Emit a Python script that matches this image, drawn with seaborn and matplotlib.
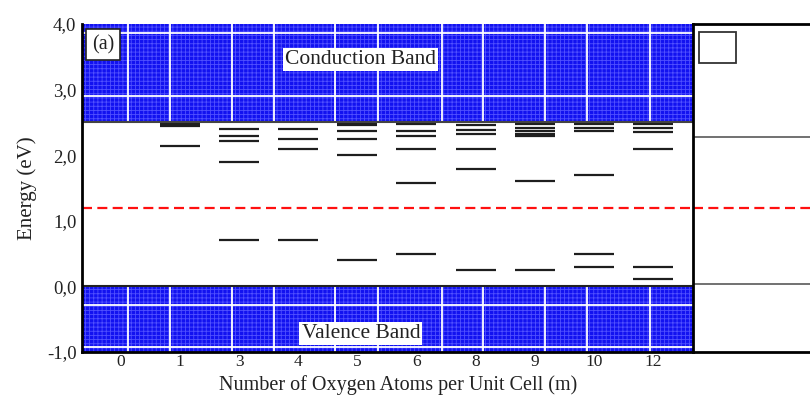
import matplotlib
matplotlib.use("Agg")
import matplotlib.pyplot as plt
import seaborn as sns
import pandas as pd
import numpy as np

# ---------------- data ----------------
categories = ['0', '1', '3', '4', '5', '6', '8', '9', '10', '12']
levels_m0 = []
levels_m1 = [2.48, 2.45, 2.145]
levels_m3 = [2.40, 2.30, 2.21, 1.90, 0.70]
levels_m4 = [2.40, 2.25, 2.09, 0.70]
levels_m5 = [2.48, 2.46, 2.37, 2.25, 2.00, 0.40]
levels_m6 = [2.47, 2.37, 2.30, 2.09, 1.58, 0.49]
levels_m8 = [2.46, 2.38, 2.32, 2.09, 1.79, 0.245]
levels_m9 = [2.47, 2.42, 2.37, 2.32, 2.29, 1.60, 0.245]
levels_m10 = [2.47, 2.42, 2.37, 1.70, 0.49, 0.30]
levels_m12 = [2.47, 2.42, 2.36, 2.09, 0.30, 0.11]
all_levels = [levels_m0, levels_m1, levels_m3, levels_m4, levels_m5,
              levels_m6, levels_m8, levels_m9, levels_m10, levels_m12]

conduction_band = (2.5, 4.0)
valence_band = (-1.0, 0.0)
fermi_level = 1.2
panel_b_levels = [2.28, 0.03]
yticks = [-1.0, 0.0, 1.0, 2.0, 3.0, 4.0]
ytick_labels = ['-1,0', '0,0', '1,0', '2,0', '3,0', '4,0']

df = pd.DataFrame(
    [(c, e) for c, lv in zip(categories, all_levels) for e in lv],
    columns=['m', 'energy'])
df['pos'] = df['m'].map({c: i for i, c in enumerate(categories)})

# ---------------- style ----------------
sns.set_theme(style='white')
plt.rcParams['font.family'] = ['Liberation Serif', 'DejaVu Serif']
plt.rcParams['hatch.linewidth'] = 0.6
TXT = '#222222'
BLUE = '#1212f0'
HATCH = '#5050ff'

fig = plt.figure(figsize=(8.10, 3.98), dpi=100)
ax = fig.add_axes([82/810, 1-352/398, 611/810, 328/398])
axb = fig.add_axes([693/810, 1-352/398, 0.2, 328/398])

xlim = (-0.66, 9.68)
ax.set_xlim(*xlim)
ax.set_ylim(-1.0, 4.0)

# bands
for lo, hi in (conduction_band, valence_band):
    ax.fill_between(xlim, lo, hi, facecolor=BLUE, edgecolor=HATCH,
                    hatch='++++', linewidth=0, zorder=3)
# white texture lines
vx_px = [127.7, 170, 231.7, 274, 335, 378, 442, 483, 545, 587, 650]
for p in vx_px:
    xf = (p - 82) / 611
    for lo, hi in (conduction_band, valence_band):
        ax.plot([xf, xf], [(lo + 1) / 5, (hi + 1) / 5], transform=ax.transAxes,
                color='white', lw=1.3, zorder=3.5)
for yv in (3.87, 2.91, -0.28, -0.92):
    ax.axhline(yv, color='white', lw=1.3, zorder=3.5)
# band edges
ax.axhline(conduction_band[0], color='#444444', lw=1.5, zorder=4)
ax.axhline(valence_band[1], color='#222222', lw=1.5, zorder=4)

# levels via seaborn
sns.scatterplot(data=df, x='pos', y='energy', marker='_', s=840,
                color='#1e1e1e', edgecolor='#1e1e1e', linewidth=1.6,
                ax=ax, zorder=2, legend=False)

# mid-gap line
ax.axhline(fermi_level, color='#ff1010', lw=1.6, ls=(0, (4.5, 2.4)), zorder=2)

ax.set_xticks(range(len(categories)))
ax.set_xticklabels(categories)
ax.set_yticks(yticks)
ax.set_yticklabels(ytick_labels)
ax.tick_params(axis='both', length=0, labelsize=13.5, labelcolor=TXT, pad=4)
ax.tick_params(axis='x', labelsize=12.5, pad=1.5)
ax.set_xlabel('Number of Oxygen Atoms per Unit Cell (m)', fontsize=14.5,
              color=TXT)
ax.xaxis.set_label_coords(0.518, -(375.5 - 352) / 328)
ax.set_ylabel('Energy (eV)', fontsize=15, color=TXT, labelpad=7)
for s in ('top', 'right'):
    ax.spines[s].set_visible(False)
for s in ('left', 'bottom'):
    ax.spines[s].set_color('black')
    ax.spines[s].set_linewidth(2)
    ax.spines[s].set_zorder(5)

ax.text(4.05, 3.46, 'Conduction Band', ha='center',
        va='center', fontsize=15.5, color=TXT, zorder=6,
        bbox=dict(facecolor='white', edgecolor='none', pad=1.5))
ax.text(4.06, -0.72, 'Valence Band', ha='center',
        va='center', fontsize=15.5, color=TXT, zorder=6,
        bbox=dict(facecolor='white', edgecolor='none', pad=1.5))
ax.text(0.016, 0.966, '(a)', transform=ax.transAxes, ha='left', va='top',
        fontsize=14.5, color=TXT, zorder=6,
        bbox=dict(facecolor='white', edgecolor='#222222', lw=1.2,
                  boxstyle='square,pad=0.3'))

# panel b
axb.set_xlim(0, 1)
axb.set_ylim(-1.0, 4.0)
axb.set_xticks([])
axb.set_yticks([])
for s in axb.spines.values():
    s.set_color('black')
    s.set_linewidth(2)
for yv in panel_b_levels:
    axb.axhline(yv, color='#666666', lw=1.3)
axb.axhline(fermi_level, color='#ff1010', lw=1.6, ls=(0, (4.5, 2.4)))
axb.add_patch(plt.Rectangle((0.035, 0.88), 0.23, 0.095, transform=axb.transAxes,
                            facecolor='white', edgecolor='#333333', lw=1.3))

fig.savefig('out.png', dpi=100)
